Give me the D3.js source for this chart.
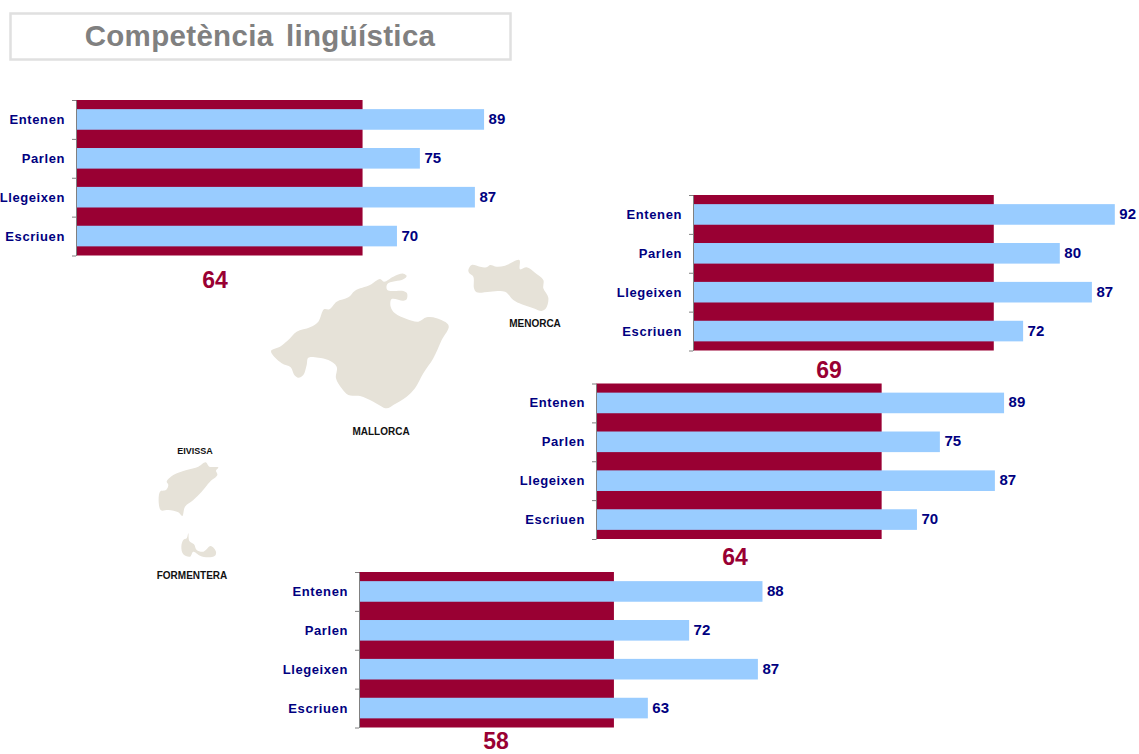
<!DOCTYPE html>
<html><head><meta charset="utf-8">
<script src="https://cdn.jsdelivr.net/npm/d3@7/dist/d3.min.js"></script>
<style>html,body{margin:0;padding:0;background:#fff;overflow:hidden}svg{display:block}text{font-family:"Liberation Sans",Arial,sans-serif;font-weight:bold}</style>
</head><body><svg id="c" width="1139" height="754"></svg>
<script>
const titleText = "Competència lingüística";
const categories = ["Entenen","Parlen","Llegeixen","Escriuen"];
// Blue series values per panel (top-left, right, middle, bottom)
const valuesA = [89,75,87,70];
const valuesB = [92,80,87,72];
const valuesC = [89,75,87,70];
const valuesD = [88,72,87,63];
// Printed totals under each panel, and the length of the maroon bar as drawn
const totalLabels = [64,69,64,58];
const totalBars = [62.5,65.6,62.3,55.6];
const panelValues = [valuesA,valuesB,valuesC,valuesD];
const islandNames = ["MENORCA","MALLORCA","EIVISSA","FORMENTERA"];

// Layout
const panelX = [76,693,596,359];
const panelY = [100,195,383.5,572];
const totalX = [215,829,735,496];
const totalY = [288,378,565,749];
const panelH = 155.5, unit = 4.585;
const labelX = [535,381,195,192], labelY = [327,435,453.5,579], labelSize = [10,10,9,10];

const svg = d3.select("#c");
svg.append("rect").attr("x",10.5).attr("y",13.5).attr("width",500).attr("height",46)
  .attr("fill","#fff").attr("stroke","#e0e0e0").attr("stroke-width",2.5);
svg.append("text").attr("x",260).attr("y",46).attr("text-anchor","middle")
  .attr("font-size",29.5).attr("letter-spacing",.32).attr("word-spacing",4).attr("fill","#808080").text(titleText);

// Island outlines (map backdrop)
const mallorca=[[33,303],[60,290],[85,270],[110,245],[150,232],[175,215],[192,178],[208,178],[230,155],[265,142],[285,122],[330,105],[360,87],[372,95],[400,80],[430,71],[440,78],[430,88],[382,102],[382,120],[430,123],[441,130],[440,148],[430,152],[395,147],[392,170],[405,190],[440,207],[475,215],[500,202],[530,205],[566,227],[545,270],[520,325],[490,370],[465,415],[440,440],[400,465],[380,475],[340,455],[300,438],[265,435],[245,415],[228,385],[230,350],[205,330],[175,323],[145,323],[140,345],[130,375],[115,383],[103,375],[92,352],[65,340]];
const menorca=[[625,60],[635,45],[660,50],[680,52],[690,45],[710,50],[735,47],[778,30],[780,58],[800,52],[825,68],[850,90],[850,115],[865,143],[858,175],[845,183],[820,175],[785,163],[760,150],[735,125],[690,125],[650,127],[642,115],[640,80],[628,70]];
const eivissa=[[60,170],[78,165],[85,150],[80,140],[100,120],[140,105],[175,95],[197,82],[208,95],[235,97],[228,107],[232,120],[210,140],[185,170],[160,195],[135,215],[127,243],[115,232],[85,225],[62,225]];
const formentera=[[145,295],[148,318],[162,328],[170,345],[190,350],[212,333],[228,350],[225,362],[205,367],[180,362],[160,350],[150,365],[130,358],[124,335],[130,315],[140,310]];
const outline=d3.line().curve(d3.curveCatmullRomClosed.alpha(.5));
const place=(pts,ox,oy)=>pts.map(p=>[ox+p[0]/3,oy+p[1]/3]);
[[mallorca,260,250],[menorca,260,250],[eivissa,140,435],[formentera,140,435]].forEach(d=>{
  svg.append("path").attr("d",outline(place(d[0],d[1],d[2]))).attr("fill","#e6e2d8");
});
islandNames.forEach((n,i)=>{
  svg.append("text").attr("x",labelX[i]).attr("y",labelY[i]).attr("text-anchor","middle")
    .attr("font-size",labelSize[i]).attr("fill","#111").text(n);
});

panelValues.forEach((vals,i)=>{
  const g=svg.append("g").attr("transform",`translate(${panelX[i]},${panelY[i]})`);
  const x=d3.scaleLinear().domain([0,100]).range([0,100*unit]);
  const bandOuter=d3.scaleBand().domain(categories).range([0,panelH]);
  const bandInner=d3.scaleBand().domain(categories).range([0,panelH]).paddingInner(.47).paddingOuter(.235);
  const tick=d3.scaleLinear().domain([0,categories.length]).range([0,panelH]);

  g.append("rect").attr("x",0).attr("y",0)
    .attr("width",x(totalBars[i])).attr("height",panelH).attr("fill","#990033");
  g.selectAll(".b").data(vals).join("rect").attr("x",0).attr("y",(v,j)=>bandInner(categories[j]))
    .attr("width",v=>x(v)).attr("height",bandInner.bandwidth()).attr("fill","#99ccff");

  const ax=g.append("g").call(d3.axisLeft(tick).tickValues(d3.range(categories.length+1)).tickSize(4).tickSizeOuter(0).tickFormat(""));
  ax.selectAll("path,line").attr("stroke","#808080").attr("stroke-width",1);

  g.selectAll(".c").data(categories).join("text").attr("x",-11)
    .attr("y",c=>bandOuter(c)+bandOuter.bandwidth()/2+4.5)
    .attr("text-anchor","end")
    .attr("font-size",13).attr("letter-spacing",.6).attr("fill","#000080").text(c=>c);
  g.selectAll(".v").data(vals).join("text").attr("x",v=>x(v)+4.5)
    .attr("y",(v,j)=>bandOuter(categories[j])+bandOuter.bandwidth()/2+4.5)
    .attr("font-size",15).attr("fill","#000080").text(v=>v);
  svg.append("text").attr("x",totalX[i]).attr("y",totalY[i]).attr("text-anchor","middle")
    .attr("font-size",23).attr("fill","#990033").text(totalLabels[i]);
});
</script></body></html>
